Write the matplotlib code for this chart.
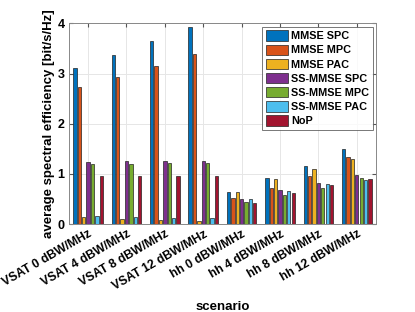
import numpy as np
import matplotlib
matplotlib.use("Agg")
import matplotlib.pyplot as plt

plt.rcParams['font.family'] = ['Liberation Sans', 'DejaVu Sans']
plt.rcParams['font.weight'] = 'bold'

scenarios = ["VSAT 0 dBW/MHz", "VSAT 4 dBW/MHz", "VSAT 8 dBW/MHz", "VSAT 12 dBW/MHz",
             "hh 0 dBW/MHz", "hh 4 dBW/MHz", "hh 8 dBW/MHz", "hh 12 dBW/MHz"]
series_names = ["MMSE SPC", "MMSE MPC", "MMSE PAC", "SS-MMSE SPC", "SS-MMSE MPC", "SS-MMSE PAC", "NoP"]
mmse_spc = [3.11, 3.37, 3.65, 3.92, 0.64, 0.91, 1.15, 1.50]
mmse_mpc = [2.73, 2.93, 3.15, 3.38, 0.52, 0.72, 0.95, 1.33]
mmse_pac = [0.14, 0.10, 0.08, 0.07, 0.64, 0.89, 1.09, 1.29]
ss_spc = [1.24, 1.25, 1.26, 1.26, 0.50, 0.68, 0.82, 0.97]
ss_mpc = [1.19, 1.20, 1.22, 1.21, 0.44, 0.57, 0.71, 0.91]
ss_pac = [0.15, 0.13, 0.12, 0.11, 0.50, 0.66, 0.79, 0.88]
nop = [0.95, 0.95, 0.95, 0.95, 0.41, 0.62, 0.77, 0.90]
values = [mmse_spc, mmse_mpc, mmse_pac, ss_spc, ss_mpc, ss_pac, nop]
colors = ["#0072BD", "#D95319", "#EDB120", "#7E2F8E", "#77AC30", "#4DBEEE", "#A2142F"]

fig = plt.figure(figsize=(4.15, 3.12), dpi=100)
ax = fig.add_axes([0.166, 0.282, 0.740, 0.643])

x = np.arange(1, len(scenarios) + 1)
n = len(values)
step = 0.8 / n
bw = step * 0.75
for i, (v, c, name) in enumerate(zip(values, colors, series_names)):
    off = (i - (n - 1) / 2) * step
    ax.bar(x + off, v, width=bw, color=c, edgecolor='#222222', linewidth=0.5,
           label=name, zorder=3)

ax.set_xlim(0.5, 8.5)
ax.set_ylim(0, 4)
ax.set_yticks([0, 1, 2, 3, 4])
ax.set_xticks(x)
ax.set_xticklabels(scenarios, rotation=30, ha='right', rotation_mode='anchor',
                   fontsize=8.7, fontweight='bold')
ax.tick_params(axis='both', which='both', direction='in', length=3, color='#555555',
               top=True, right=True, pad=3)
ax.tick_params(axis='y', labelsize=9)
for lab in ax.get_yticklabels():
    lab.set_fontweight('bold')
ax.grid(True, color='#e6e6e6', linewidth=0.7, zorder=0)
ax.set_axisbelow(True)
for s in ax.spines.values():
    s.set_color('#888888')
    s.set_linewidth(0.7)
ax.set_ylabel("average spectral efficiency [bit/s/Hz]", fontsize=9.5, fontweight='bold', labelpad=2)
ax.set_xlabel("scenario", fontsize=9.5, fontweight='bold', labelpad=6)

leg = ax.legend(loc='upper right', fontsize=7.8, frameon=True, fancybox=False,
                edgecolor='#555555', handlelength=2.0, handleheight=1.1,
                borderpad=0.35, labelspacing=0.3, handletextpad=0.3,
                borderaxespad=0.3)
leg.get_frame().set_linewidth(0.7)
for t in leg.get_texts():
    t.set_fontweight('bold')

fig.savefig("out.png", dpi=100)
